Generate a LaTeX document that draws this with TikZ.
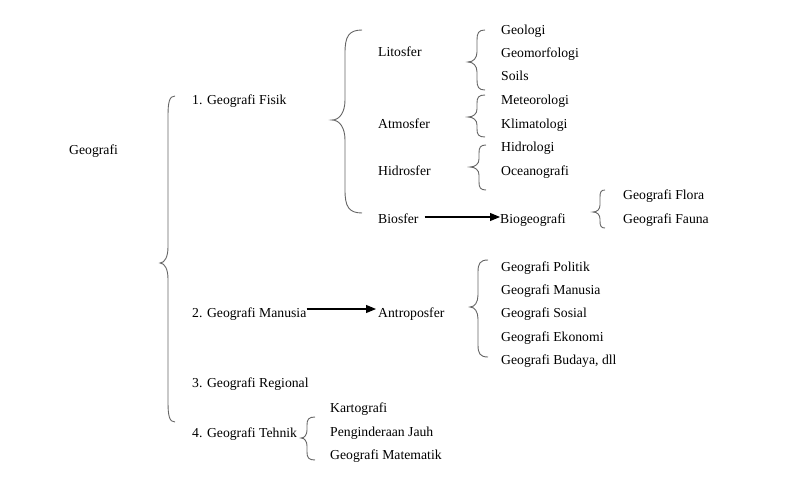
\documentclass[tikz,border=0pt]{standalone}
\usepackage{fontspec}
\setmainfont{Liberation Serif}
\usetikzlibrary{arrows.meta}
\tikzset{
  lbl/.style={anchor=base west, inner sep=0pt, font=\fontsize{13.7}{16}\selectfont},
  bracestyle/.style={draw=black!60, line width=0.9pt},
  arr/.style={draw=black, line width=1.1pt, -{Triangle[length=10pt,width=8pt]}}
}
\newcommand\gbrace[8]{%
\draw[bracestyle] (#1+#5,#2) .. controls (#1+0.2*#5,#2) and (#1,#2+0.3*#6) .. (#1,#2+#6)
 -- (#1,#3-#8) .. controls (#1,#3-0.4*#8) and (#1-0.4*#7,#3) .. (#1-#7,#3)
 .. controls (#1-0.4*#7,#3) and (#1,#3+0.4*#8) .. (#1,#3+#8)
 -- (#1,#4-#6) .. controls (#1,#4-0.3*#6) and (#1+0.2*#5,#4) .. (#1+#5,#4);}
\begin{document}
\begin{tikzpicture}[x=1pt,y=-1pt]
\useasboundingbox[fill=white] (0,0) rectangle (800,500);
% level 0
\node[lbl] (geo) at (69,154) {Geografi};
% level 1
\node[lbl] (fisik) at (192,104.5) {1. Geografi Fisik};
\node[lbl] (manusia) at (192,317.5) {2. Geografi Manusia};
\node[lbl] (regional) at (192,387.5) {3. Geografi Regional};
\node[lbl] (tehnik) at (192,437) {4. Geografi Tehnik};
% level 2
\node[lbl] (lito) at (378,57) {Litosfer};
\node[lbl] (atmo) at (378,128.5) {Atmosfer};
\node[lbl] (hidro) at (378,175.5) {Hidrosfer};
\node[lbl] (bio) at (378,223.5) {Biosfer};
\node[lbl] (antro) at (378,317.5) {Antroposfer};
% level 3
\node[lbl] (geologi) at (501,34.5) {Geologi};
\node[lbl] (geomorf) at (501,57.5) {Geomorfologi};
\node[lbl] (soils) at (501,80.5) {Soils};
\node[lbl] (meteo) at (501,104.5) {Meteorologi};
\node[lbl] (klima) at (501,128.5) {Klimatologi};
\node[lbl] (hidrologi) at (501,151.5) {Hidrologi};
\node[lbl] (ocean) at (501,175.5) {Oceanografi};
\node[lbl] (biogeo) at (500,223.5) {Biogeografi};
\node[lbl] (flora) at (623,199.5) {Geografi Flora};
\node[lbl] (fauna) at (623,223.5) {Geografi Fauna};
\node[lbl] (politik) at (501,271.5) {Geografi Politik};
\node[lbl] (gmanusia) at (501,294.5) {Geografi Manusia};
\node[lbl] (sosial) at (501,317.5) {Geografi Sosial};
\node[lbl] (ekonomi) at (501,341.5) {Geografi Ekonomi};
\node[lbl] (budaya) at (501,364.5) {Geografi Budaya, dll};
\node[lbl] (karto) at (330,412.5) {Kartografi};
\node[lbl] (pengin) at (330,436.5) {Penginderaan Jauh};
\node[lbl] (matem) at (330,459.5) {Geografi Matematik};
% braces
\gbrace{168}{96}{263}{422}{7}{20}{8}{16}
\gbrace{345}{30}{120}{213}{17}{23}{13}{20}
\gbrace{477}{30}{62}{90}{8}{10}{9}{10}
\gbrace{477}{95}{117}{137}{8}{8}{9}{8}
\gbrace{479}{145}{167}{190}{7}{8}{9}{8}
\gbrace{600}{190}{212}{228}{5}{7}{7}{7}
\gbrace{478}{260}{307}{357}{10}{12}{8}{12}
\gbrace{307}{417}{438}{460}{8}{8}{6}{8}
% arrows
\draw[arr] ([shift={(6pt,6.5pt)}]bio.base east) -- ([yshift=6.5pt]biogeo.base west);
\draw[arr] ([yshift=8.5pt]manusia.base east) -- ([shift={(-2pt,8.5pt)}]antro.base west);
\end{tikzpicture}
\end{document}
